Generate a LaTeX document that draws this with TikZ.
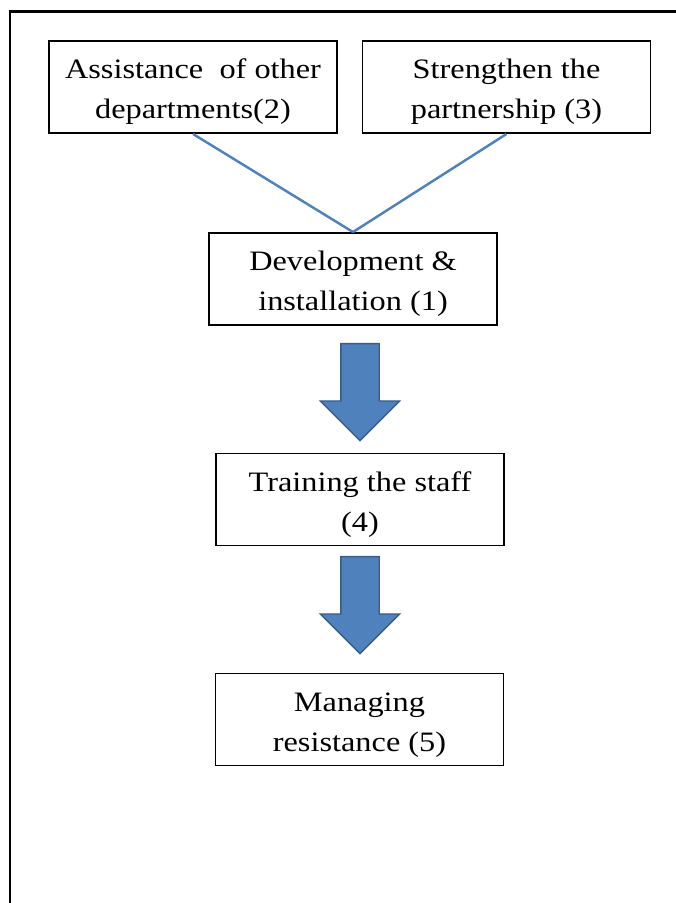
\documentclass[tikz,border=0pt]{standalone}
\usepackage{fontspec}
\setmainfont{Liberation Serif}[FakeStretch=1.15]
\usetikzlibrary{shapes.arrows}
\definecolor{lblue}{RGB}{79,129,189}
\definecolor{dblue}{RGB}{56,93,138}

\begin{document}
\begin{tikzpicture}[
  box/.style={rectangle,draw,line width=1.1pt,align=center,
              font=\fontsize{16}{22.8}\selectfont,
              text height=1.5cm,text depth=0.22cm,
              minimum width=5.76cm,minimum height=1.84cm,inner sep=1pt},
  link/.style={lblue,line width=1.4pt},
  bigarr/.style={single arrow,draw=dblue,fill=lblue,line width=0.8pt,rotate=-90,
                 anchor=tail,minimum height=1.94cm,minimum width=1.56cm,
                 inner xsep=0pt,inner ysep=0.37cm,
                 single arrow head extend=0.41cm,single arrow tip angle=90}
]
\useasboundingbox (0,0) rectangle (13.5,18.06);
% Frame (top and left only)
\draw[line width=1.7pt] (13.6,17.83) -- (0.2,17.83) -- (0.2,-0.1);

% Top row
\node[box] (assist)   at (3.86,16.32)  {Assistance\ \ of other\\departments(2)};
\node[box] (strength) at (10.13,16.32) {Strengthen the\\partnership (3)};
\node[box] (devel)    at (7.06,12.48)  {Development \&\\installation (1)};
\draw[link] (assist.south) -- (devel.north);
\draw[link] (strength.south) -- (devel.north);

% Steps below
\node[bigarr] (arr1) at (7.2,11.2) {};
\node[box] (train)  at (7.2,8.07)  {Training the staff\\(4)};
\node[bigarr] (arr2) at (7.2,6.94) {};
\node[box] (manage) at (7.19,3.67) {Managing\\resistance (5)};
\end{tikzpicture}
\end{document}
